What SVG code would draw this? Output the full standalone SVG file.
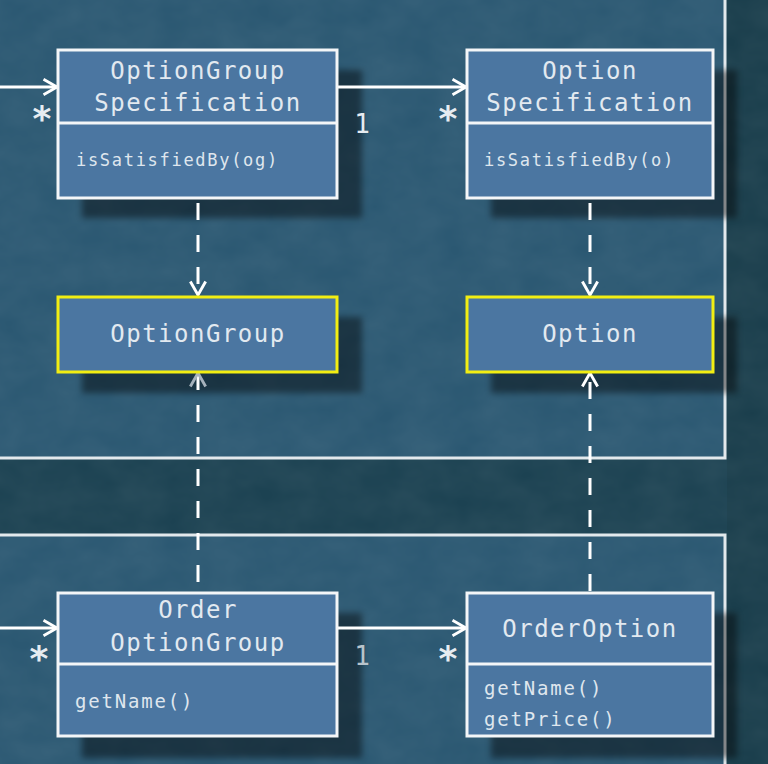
<svg xmlns="http://www.w3.org/2000/svg" width="768" height="764" viewBox="0 0 768 764">
<defs>
<filter id="shadow" x="-20%" y="-20%" width="140%" height="140%">
<feGaussianBlur stdDeviation="3"/>
</filter>
<filter id="grain" x="0" y="0" width="100%" height="100%">
<feTurbulence type="fractalNoise" baseFrequency="0.025 0.035" numOctaves="3" seed="4" result="n"/>
<feColorMatrix in="n" type="matrix" values="0 0 0 0 1  0 0 0 0 1  0 0 0 0 1  0 0 0 0.07 -0.01"/>
</filter>
<marker id="open" viewBox="0 0 20 20" refX="18" refY="10" markerWidth="18" markerHeight="18" markerUnits="userSpaceOnUse" orient="auto">
<path d="M3 1.5 L18 10 L3 18.5" fill="none" stroke="#ffffff" stroke-width="3.2"/>
</marker>
<marker id="openGray" viewBox="0 0 20 20" refX="18" refY="10" markerWidth="18" markerHeight="18" markerUnits="userSpaceOnUse" orient="auto">
<path d="M3 1.5 L18 10 L3 18.5" fill="none" stroke="#a6b2bc" stroke-width="3.2"/>
</marker>
</defs>
<style>
.box{fill:#4b76a1;stroke:#f4f6f8;stroke-width:3}
.hl{fill:#4b76a1;stroke:#f2ee12;stroke-width:3}
.div{stroke:#f4f6f8;stroke-width:3}
.sh{fill:#000;opacity:0.42;filter:url(#shadow)}
.hd{font-family:"DejaVu Sans Mono","Liberation Mono",monospace;font-size:24px;letter-spacing:1.5px;fill:#e2e9f0;text-anchor:middle}
.md{font-family:"DejaVu Sans Mono","Liberation Mono",monospace;font-size:17px;letter-spacing:1.7px;fill:#dfe6ee}
.mb{font-family:"DejaVu Sans Mono","Liberation Mono",monospace;font-size:19px;letter-spacing:1.8px;fill:#dfe6ee}
.mult{font-family:"DejaVu Sans Mono","Liberation Mono",monospace;font-size:26px;fill:#e6ecf1;text-anchor:middle}
.star{font-family:"DejaVu Sans","Liberation Sans",sans-serif;font-size:36px;font-weight:bold;fill:#e6ecf1;text-anchor:middle}
.frame{fill:#2b5872;stroke:#e2e8ec;stroke-width:3}
.solid{stroke:#ffffff;stroke-width:3;fill:none}
.dash{stroke:#ffffff;stroke-width:3;fill:none;stroke-dasharray:17 15}
</style>
<rect x="0" y="0" width="768" height="764" fill="#1c4252"/>
<rect x="727" y="0" width="41" height="764" fill="#1a3e4c"/>
<g id="packages">
<rect class="frame" x="-10" y="-10" width="735" height="468"/>
<rect class="frame" x="-10" y="535" width="735" height="240"/>
</g>
<rect x="0" y="0" width="768" height="764" filter="url(#grain)"/>
<g id="shadows">
<rect class="sh" x="82" y="70" width="280" height="148"/>
<rect class="sh" x="491" y="70" width="246" height="148"/>
<rect class="sh" x="82" y="317" width="280" height="76"/>
<rect class="sh" x="491" y="317" width="246" height="76"/>
<rect class="sh" x="82" y="613" width="280" height="145"/>
<rect class="sh" x="491" y="613" width="246" height="145"/>
</g>
<g id="connectors">
<line class="solid" x1="0" y1="87" x2="57" y2="87" marker-end="url(#open)"/>
<line class="solid" x1="338" y1="87" x2="466" y2="87" marker-end="url(#open)"/>
<line class="dash" x1="198" y1="203" x2="198" y2="295" marker-end="url(#open)"/>
<line class="dash" x1="590" y1="203" x2="590" y2="295" marker-end="url(#open)"/>
<line class="dash" x1="198" y1="582" x2="198" y2="373" marker-end="url(#openGray)"/>
<line class="dash" x1="590" y1="591" x2="590" y2="373" marker-end="url(#open)"/>
<line class="solid" x1="0" y1="628" x2="57" y2="628" marker-end="url(#open)"/>
<line class="solid" x1="338" y1="628" x2="466" y2="628" marker-end="url(#open)"/>
<text class="star" x="42" y="131">*</text>
<text class="mult" x="362" y="133">1</text>
<text class="star" x="448" y="131">*</text>
<text class="star" x="39" y="671">*</text>
<text class="mult" x="362" y="665" style="fill:#b8c4cc">1</text>
<text class="star" x="448" y="671">*</text>
</g>
<g id="OptionGroupSpecification">
<rect class="box" x="58" y="50" width="279" height="148"/>
<line class="div" x1="58" y1="123" x2="337" y2="123"/>
<text class="hd" x="198" y="79">OptionGroup</text>
<text class="hd" x="198" y="111">Specification</text>
<text class="md" x="76" y="166">isSatisfiedBy(og)</text>
</g>
<g id="OptionSpecification">
<rect class="box" x="467" y="50" width="246" height="148"/>
<line class="div" x1="467" y1="123" x2="713" y2="123"/>
<text class="hd" x="590" y="79">Option</text>
<text class="hd" x="590" y="111">Specification</text>
<text class="md" x="484" y="166">isSatisfiedBy(o)</text>
</g>
<g id="OptionGroup">
<rect class="hl" x="58" y="297" width="279" height="75"/>
<text class="hd" x="198" y="342">OptionGroup</text>
</g>
<g id="Option">
<rect class="hl" x="467" y="297" width="246" height="75"/>
<text class="hd" x="590" y="342">Option</text>
</g>
<g id="OrderOptionGroup">
<rect class="box" x="58" y="593" width="279" height="143"/>
<line class="div" x1="58" y1="664" x2="337" y2="664"/>
<text class="hd" x="198" y="618">Order</text>
<text class="hd" x="198" y="651">OptionGroup</text>
<text class="mb" x="75" y="708">getName()</text>
</g>
<g id="OrderOption">
<rect class="box" x="467" y="593" width="246" height="143"/>
<line class="div" x1="467" y1="664" x2="713" y2="664"/>
<text class="hd" x="590" y="637">OrderOption</text>
<text class="mb" x="484" y="695">getName()</text>
<text class="mb" x="484" y="726">getPrice()</text>
</g>
</svg>
